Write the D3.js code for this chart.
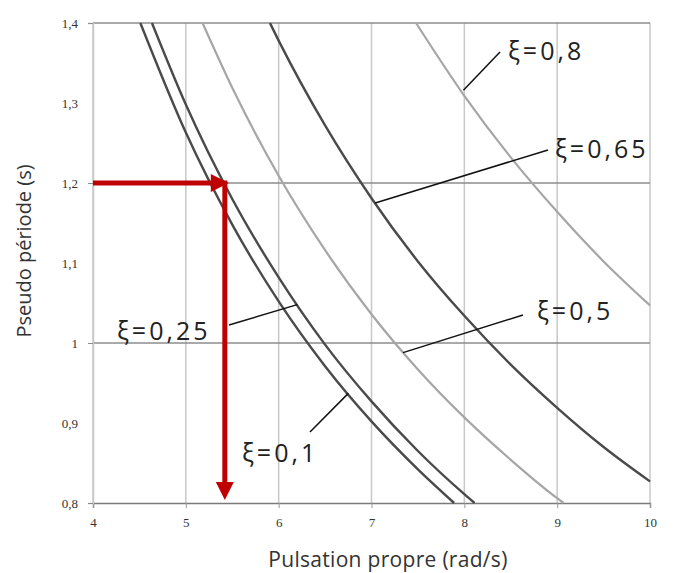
<!DOCTYPE html>
<html>
<head>
<meta charset="utf-8">
<script src="https://cdn.jsdelivr.net/npm/d3@7"></script>
<style>
  body { margin: 0; background: #fff; }
  svg { display: block; }
</style>
</head>
<body>
<script>
// values: pulsation (rad/s) -> pseudo periode (s)
const w01 = [4.51, 5, 5.5, 6, 6.5, 7, 7.5, 7.89];
const t01 = [1.40, 1.263, 1.148, 1.052, 0.971, 0.902, 0.842, 0.80];
const w025 = [4.635, 5, 5.5, 6, 6.5, 7, 7.5, 8, 8.11];
const t025 = [1.40, 1.298, 1.180, 1.082, 0.998, 0.927, 0.865, 0.811, 0.80];
const w05 = [5.18, 5.5, 6, 6.5, 7, 7.5, 8, 8.5, 9, 9.07];
const t05 = [1.40, 1.319, 1.209, 1.116, 1.036, 0.967, 0.907, 0.854, 0.806, 0.80];
const w065 = [5.906, 6, 6.5, 7, 7.5, 8, 8.5, 9, 9.5, 10];
const t065 = [1.40, 1.378, 1.272, 1.181, 1.102, 1.034, 0.973, 0.919, 0.870, 0.827];
const w08 = [7.48, 8, 8.5, 9, 9.5, 10];
const t08 = [1.40, 1.309, 1.232, 1.164, 1.102, 1.047];

const xTicks = [4, 5, 6, 7, 8, 9, 10];
const yTicks = [0.8, 0.9, 1.0, 1.1, 1.2, 1.3, 1.4];
const yGrid = [1.0, 1.2, 1.4];

// reading example (red arrows)
const readT = 1.2;
const readW = 5.42;

const width = 673, height = 573;
const margin = {top: 23, right: 23, bottom: 70, left: 93};

const svg = d3.select("body").append("svg")
    .attr("width", width)
    .attr("height", height);

const x = d3.scaleLinear().domain([4, 10]).range([margin.left, width - margin.right]);
const y = d3.scaleLinear().domain([0.8, 1.4]).range([height - margin.bottom, margin.top]);

// vertical grid
svg.append("g")
    .selectAll("line")
    .data(xTicks)
    .join("line")
    .attr("x1", d => x(d)).attr("x2", d => x(d))
    .attr("y1", y(1.4)).attr("y2", y(0.8))
    .attr("stroke", "#c8c8c8")
    .attr("stroke-width", 1.5);

// horizontal grid
svg.append("g")
    .selectAll("line")
    .data(yGrid)
    .join("line")
    .attr("x1", x(4)).attr("x2", x(10))
    .attr("y1", d => y(d)).attr("y2", d => y(d))
    .attr("stroke", "#8c8c8c")
    .attr("stroke-width", 1.3);

// x axis
const xAxis = svg.append("g")
    .attr("transform", `translate(0,${y(0.8)})`)
    .call(d3.axisBottom(x).tickValues(xTicks).tickSize(5).tickPadding(10).tickFormat(d3.format("d")));
xAxis.select(".domain").attr("stroke", "#7a7a7a").attr("stroke-width", 1.5);
xAxis.selectAll(".tick line").attr("stroke", "#9a9a9a");

// y axis
const yAxis = svg.append("g")
    .attr("transform", `translate(${x(4)},0)`)
    .call(d3.axisLeft(y).tickValues(yTicks).tickSize(5).tickPadding(10)
        .tickFormat(d => d3.format(".1~f")(d).replace(".", ",")));
yAxis.select(".domain").attr("stroke", "#c8c8c8").attr("stroke-width", 1.5);
yAxis.selectAll(".tick line").attr("stroke", d => yGrid.includes(d) || d === 0.8 ? "#8c8c8c" : "none");

svg.selectAll(".tick text")
    .attr("font-family", "'Liberation Serif', serif")
    .attr("font-size", 13)
    .attr("fill", "#333");

// curves
const series = [
  {w: w01, t: t01, color: "#4a4a4a", sw: 2.4},
  {w: w025, t: t025, color: "#4a4a4a", sw: 2.4},
  {w: w05, t: t05, color: "#a6a6a6", sw: 2.2},
  {w: w065, t: t065, color: "#4a4a4a", sw: 2.4},
  {w: w08, t: t08, color: "#a6a6a6", sw: 2.2}
];

const line = d3.line()
    .x(d => x(d[0]))
    .y(d => y(d[1]))
    .curve(d3.curveMonotoneX);

svg.append("g")
    .selectAll("path")
    .data(series)
    .join("path")
    .attr("d", s => line(s.w.map((v, i) => [v, s.t[i]])))
    .attr("fill", "none")
    .attr("stroke", s => s.color)
    .attr("stroke-width", s => s.sw);

// red arrows
const red = "#c00000";
svg.append("line")
    .attr("x1", x(4)).attr("x2", x(readW) - 14)
    .attr("y1", y(readT)).attr("y2", y(readT))
    .attr("stroke", red).attr("stroke-width", 5);
svg.append("path")
    .attr("d", `M${x(readW) + 4},${y(readT)} L${x(readW) - 14},${y(readT) - 9} L${x(readW) - 14},${y(readT) + 9} Z`)
    .attr("fill", red);
svg.append("line")
    .attr("x1", x(readW)).attr("x2", x(readW))
    .attr("y1", y(readT) - 2.5).attr("y2", y(0.8) - 20)
    .attr("stroke", red).attr("stroke-width", 5);
svg.append("path")
    .attr("d", `M${x(readW)},${y(0.8) - 3} L${x(readW) - 9},${y(0.8) - 21} L${x(readW) + 9},${y(0.8) - 21} Z`)
    .attr("fill", red);

// labels with leader lines (w, t = point on the curve)
const labels = [
  {text: "ξ=0,8",  tx: 508, ty: 60,  lx1: 500, ly1: 52,  w: 7.99, t: 1.316},
  {text: "ξ=0,65", tx: 555, ty: 158, lx1: 548, ly1: 150, w: 7.04, t: 1.175},
  {text: "ξ=0,5",  tx: 537, ty: 320, lx1: 523, ly1: 315, w: 7.34, t: 0.988},
  {text: "ξ=0,25", tx: 117, ty: 340, lx1: 229, ly1: 325, w: 6.20, t: 1.048},
  {text: "ξ=0,1",  tx: 242, ty: 462, lx1: 310, ly1: 432, w: 6.75, t: 0.937}
];

svg.append("g")
    .selectAll("line")
    .data(labels)
    .join("line")
    .attr("x1", d => d.lx1).attr("y1", d => d.ly1)
    .attr("x2", d => x(d.w)).attr("y2", d => y(d.t))
    .attr("stroke", "#111")
    .attr("stroke-width", 1.5);

svg.append("g")
    .selectAll("text")
    .data(labels)
    .join("text")
    .attr("x", d => d.tx).attr("y", d => d.ty)
    .attr("font-family", "'Open Sans', 'DejaVu Sans', sans-serif")
    .attr("font-size", 25)
    .attr("letter-spacing", 3)
    .attr("fill", "#222")
    .text(d => d.text);

// axis titles
svg.append("text")
    .attr("x", 388)
    .attr("y", 567)
    .attr("text-anchor", "middle")
    .attr("font-family", "'Open Sans', sans-serif")
    .attr("font-size", 21)
    .attr("letter-spacing", 0.3)
    .attr("fill", "#333")
    .text("Pulsation propre (rad/s)");

svg.append("text")
    .attr("transform", "translate(31,251) rotate(-90)")
    .attr("text-anchor", "middle")
    .attr("font-family", "'Open Sans', sans-serif")
    .attr("font-size", 20)
    .attr("fill", "#333")
    .text("Pseudo période (s)");
</script>
</body>
</html>
